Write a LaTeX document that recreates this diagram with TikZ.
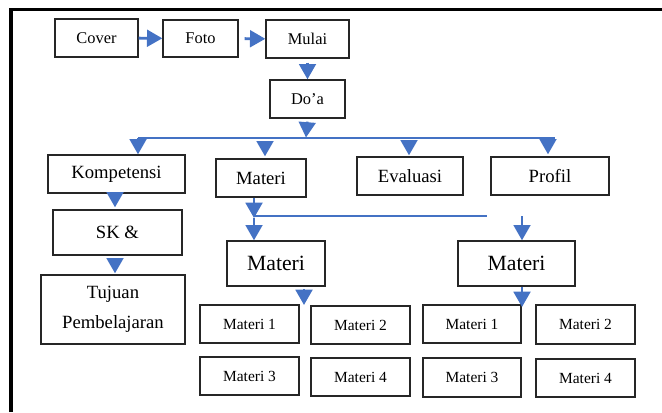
\documentclass[tikz,border=0pt]{standalone}
\usepackage{fontspec}
\setmainfont{Liberation Serif}
\usetikzlibrary{arrows.meta}
\definecolor{blueA}{HTML}{4472C4}
\definecolor{boxline}{HTML}{262626}
\tikzset{
  bx/.style 2 args={draw=boxline, line width=1pt, inner sep=0pt, align=center,
    minimum width=#1*0.75pt, minimum height=#2*0.75pt},
  fa/.style={font=\fontsize{12.3}{14}\selectfont},
  fb/.style={font=\fontsize{14}{22.5}\selectfont},
  fc/.style={font=\fontsize{16.3}{18}\selectfont},
  fd/.style={font=\fontsize{11.6}{13}\selectfont},
  arr/.style={draw=blueA, line width=2.2pt, -{Triangle[width=12.5pt,length=11.5pt]}},
  bus/.style={draw=blueA, line width=1.1pt},
  frame/.style={draw=black, line width=2.3pt}
}
\begin{document}
\begin{tikzpicture}[x=0.75pt,y=-0.75pt]
\useasboundingbox (0,0) rectangle (662,412);
% frame
\coordinate (fr1) at (11,412);
\coordinate (fr2) at (11,9.5);
\coordinate (fr3) at (662,9.5);
\draw[frame] (fr1) -- (fr2) -- (fr3);
% nodes
\node[bx={83}{38},fa] (cover) at (96.5,38) {Cover};
\node[bx={75}{37},fa] (foto) at (200.5,38.5) {Foto};
\node[bx={83}{38},fa] (mulai) at (307.5,39) {Mulai};
\node[bx={75}{38},fa] (doa) at (307.5,99) {Do’a};
\node[bx={137}{38},fb] (komp) at (116.5,174) {Kompetensi};
\node[bx={90}{38},fb] (matT) at (261,178) {Materi};
\node[bx={106}{38},fb] (eval) at (410,176) {Evaluasi};
\node[bx={118}{38},fb] (prof) at (550,176) {Profil};
\node[bx={129}{45},fb] (sk) at (117.5,232.5) {SK \&};
\node[bx={144}{69},fb] (tuj) at (113,309.5) {Tujuan\\Pembelajaran};
\node[bx={98}{45},fc] (matL) at (276,263.5) {Materi};
\node[bx={117}{45},fc] (matR) at (516.5,263.5) {Materi};
\node[bx={99}{38},fd] (m1L) at (249.5,324) {Materi 1};
\node[bx={99}{38},fd] (m2L) at (360.5,325) {Materi 2};
\node[bx={99}{38},fd] (m3L) at (249.5,376) {Materi 3};
\node[bx={99}{38},fd] (m4L) at (360.5,377) {Materi 4};
\node[bx={98}{38},fd] (m1R) at (472,324) {Materi 1};
\node[bx={99}{39},fd] (m2R) at (585.5,324.5) {Materi 2};
\node[bx={98}{39},fd] (m3R) at (472,377.5) {Materi 3};
\node[bx={99}{38},fd] (m4R) at (585.5,378) {Materi 4};
% top row arrows
\draw[arr] (cover) -- (foto);
\draw[arr, shorten <=6*0.75pt] (foto) -- (mulai);
\draw[arr, shorten <=4*0.75pt] (mulai.south) -- (doa.north);
% bus
\coordinate (bd) at (306,137.5);
\coordinate (b1) at (138,138);
\coordinate (b2) at (265,138);
\coordinate (b3) at (409,138);
\coordinate (b4) at (548,138);
\coordinate (b5) at (555,138);
\draw[arr, shorten <=3*0.75pt] (doa.south) -- (bd);
\draw[bus] (b1) -- (b5);
\draw[arr] (b1) -- (b1 |- komp.north);
\draw[arr, shorten <=4*0.75pt, shorten >=2*0.75pt] (b2) -- (b2 |- matT.north);
\draw[arr, shorten <=2*0.75pt, shorten >=1*0.75pt] (b3) -- (b3 |- eval.north);
\draw[arr, shorten >=2*0.75pt] (b4) -- (b4 |- prof.north);
% left column
\coordinate (c1) at (115,0);
\draw[arr, shorten >=2*0.75pt] (komp.south -| c1) -- (sk.north -| c1);
\draw[arr, shorten <=4*0.75pt, shorten >=1*0.75pt] (sk.south -| c1) -- (tuj.north -| c1);
% Materi split
\coordinate (j1) at (254,218);
\coordinate (j2) at (254,216);
\coordinate (j3) at (487,216);
\coordinate (r1) at (522,216);
\draw[arr] (matT.south -| j1) -- (j1);
\draw[arr] (j1) -- (j1 |- matL.north);
\draw[bus] (j2) -- (j3);
\draw[arr] (r1) -- (r1 |- matR.north);
% to Materi 1..4
\coordinate (l1) at (304,289);
\coordinate (l2) at (304,305);
\draw[arr] (l1) -- (l2);
\coordinate (r2) at (522,307);
\draw[arr] (matR.south -| r2) -- (r2);
\end{tikzpicture}
\end{document}
